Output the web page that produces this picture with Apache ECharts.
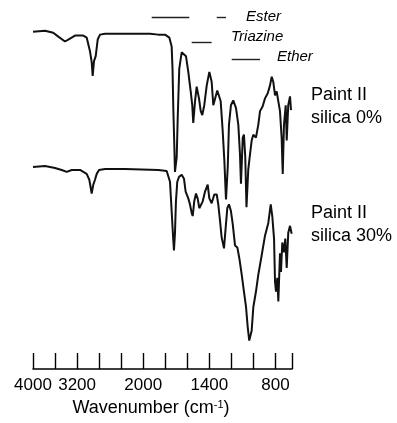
<!DOCTYPE html>
<html>
<head>
<meta charset="utf-8">
<script src="https://cdn.jsdelivr.net/npm/echarts@6/dist/echarts.min.js"></script>
<style>
  html, body { margin: 0; padding: 0; background: #fff; }
  #chart { width: 397px; height: 423px; }
</style>
</head>
<body>
<div id="chart"></div>
<script>
// FTIR spectra, offset transmittance (a.u.), wavenumbers in cm-1
const wnSilica0 = [4000, 3782, 3632, 3541, 3419, 3329, 3238, 3087, 3026, 2966, 2935, 2917, 2893, 2862, 2826, 2784, 2693, 2331, 1939, 1863, 1802, 1763, 1742, 1734, 1727, 1718, 1712, 1696, 1687, 1673, 1651, 1636, 1612, 1591, 1569, 1555, 1546, 1530, 1515, 1494, 1478, 1464, 1446, 1424, 1400, 1379, 1364, 1349, 1328, 1310, 1297, 1279, 1264, 1249, 1233, 1222, 1204, 1183, 1158, 1137, 1122, 1113, 1097, 1086, 1074, 1063, 1047, 1031, 1016, 1001, 977, 956, 940, 916, 895, 871, 850, 834, 820, 804, 789, 774, 759, 744, 734, 723, 707, 698, 684, 668, 659]
const tSilica0 = [344, 345, 343, 339, 334, 337, 340, 340, 338, 324, 313, 299, 314, 319, 336, 341, 342, 342, 342, 341, 341, 338, 329, 306, 266, 229, 201, 216, 256, 306, 323, 324, 319, 303, 283, 269, 251, 273, 288, 276, 263, 259, 269, 289, 303, 293, 269, 268, 284, 283, 273, 243, 213, 173, 206, 249, 269, 274, 266, 249, 219, 189, 236, 239, 216, 165, 203, 219, 233, 239, 236, 249, 263, 268, 276, 281, 289, 298, 293, 279, 283, 273, 263, 236, 199, 249, 269, 233, 269, 278, 264]

const wnSilica30 = [4000, 3782, 3601, 3479, 3388, 3298, 3147, 3026, 2978, 2935, 2906, 2875, 2844, 2802, 2693, 2331, 1863, 1787, 1772, 1757, 1742, 1727, 1721, 1712, 1703, 1691, 1675, 1651, 1630, 1615, 1591, 1576, 1560, 1551, 1537, 1521, 1506, 1491, 1476, 1460, 1439, 1415, 1400, 1379, 1355, 1333, 1319, 1303, 1288, 1267, 1252, 1237, 1222, 1204, 1188, 1167, 1146, 1128, 1106, 1086, 1067, 1052, 1038, 1016, 1001, 977, 956, 925, 895, 865, 843, 829, 813, 804, 795, 783, 774, 759, 750, 738, 723, 711, 698, 684, 668, 653]
const tSilica30 = [206, 207, 205, 203, 201, 203, 203, 199, 193, 179, 188, 193, 199, 203, 204, 204, 203, 202, 201, 191, 161, 131, 121, 138, 171, 191, 196, 198, 194, 181, 174, 168, 159, 156, 171, 179, 174, 164, 163, 171, 181, 188, 174, 169, 178, 178, 168, 151, 134, 123, 144, 164, 168, 161, 148, 126, 124, 113, 96, 79, 63, 43, 29, 39, 63, 79, 96, 116, 136, 149, 168, 156, 133, 89, 79, 93, 69, 118, 99, 129, 119, 133, 103, 139, 146, 138]

// assignment bands [from, to] in cm-1
const esterBands = [[1923, 1582], [1333, 1249]]
const triazineBands = [[1560, 1379]]
const etherBands = [[1197, 940]]

const tickWn = [4000, 3600, 3200, 2800, 2400, 2000, 1800, 1600, 1400, 1200, 1000, 800, 650]
const labelWn = [4000, 3200, 2000, 1400, 800]

// IR convention: half scale above 2000 cm-1
const toAxis = w => w >= 2000 ? (4000 - w) / 2 : 1000 + (2000 - w)
const fromAxis = v => v <= 1000 ? 4000 - 2 * v : 3000 - v

const chart = echarts.init(document.getElementById('chart'))

const bandLines = (bands, y) => bands.map(b => [
  { coord: [toAxis(b[0]), y] },
  { coord: [toAxis(b[1]), y] }
])

const font = 'Liberation Sans, Arial, sans-serif'

const option = {
  animation: false,
  grid: { left: 33, right: 105, top: 16, bottom: 47 },
  xAxis: {
    type: 'value',
    min: 0,
    max: toAxis(650),
    axisLine: { lineStyle: { color: '#000', width: 1.5 } },
    axisTick: {
      inside: true,
      length: 16,
      customValues: tickWn.map(toAxis),
      lineStyle: { color: '#000', width: 1.4 }
    },
    axisLabel: {
      customValues: labelWn.map(toAxis),
      formatter: v => String(Math.round(fromAxis(v))),
      color: '#000',
      fontSize: 17,
      fontFamily: font,
      margin: 8
    },
    splitLine: { show: false },
    name: 'Wavenumber (cm{sup|-1})',
    nameLocation: 'middle',
    nameGap: 30,
    nameTextStyle: {
      color: '#000',
      fontSize: 18,
      fontFamily: font,
      padding: [0, 23, 0, 0],
      rich: {
        sup: { fontSize: 11, fontFamily: font, color: '#000', verticalAlign: 'top', lineHeight: 11, padding: [0, 0, 8, 0] }
      }
    }
  },
  yAxis: {
    type: 'value',
    min: 0,
    max: 360,
    show: false
  },
  series: [
    {
      name: 'silica 0%',
      type: 'line',
      data: wnSilica0.map((w, i) => [toAxis(w), tSilica0[i]]),
      showSymbol: false,
      lineStyle: { color: '#111', width: 2 }
    },
    {
      name: 'silica 30%',
      type: 'line',
      data: wnSilica30.map((w, i) => [toAxis(w), tSilica30[i]]),
      showSymbol: false,
      lineStyle: { color: '#111', width: 2 }
    },
    {
      name: 'bands',
      type: 'line',
      data: [],
      markLine: {
        silent: true,
        symbol: ['none', 'none'],
        label: { show: false },
        lineStyle: { color: '#222', width: 1.4, type: 'solid' },
        data: [
          ...bandLines(esterBands, 358.7),
          ...bandLines(triazineBands, 333.3),
          ...bandLines(etherBands, 315.7)
        ]
      }
    }
  ],
  graphic: [
    { type: 'text', left: 246, top: 9.5, style: { text: 'Ester', font: 'italic 15px ' + font, fill: '#000' } },
    { type: 'text', left: 231, top: 29.5, style: { text: 'Triazine', font: 'italic 15px ' + font, fill: '#000' } },
    { type: 'text', left: 277, top: 49.5, style: { text: 'Ether', font: 'italic 15px ' + font, fill: '#000' } },
    { type: 'text', left: 311, top: 84, style: { text: 'Paint II\nsilica 0%', font: '18px ' + font, lineHeight: 23, fill: '#000' } },
    { type: 'text', left: 311, top: 202, style: { text: 'Paint II\nsilica 30%', font: '18px ' + font, lineHeight: 23, fill: '#000' } }
  ]
}

chart.setOption(option)
</script>
</body>
</html>
